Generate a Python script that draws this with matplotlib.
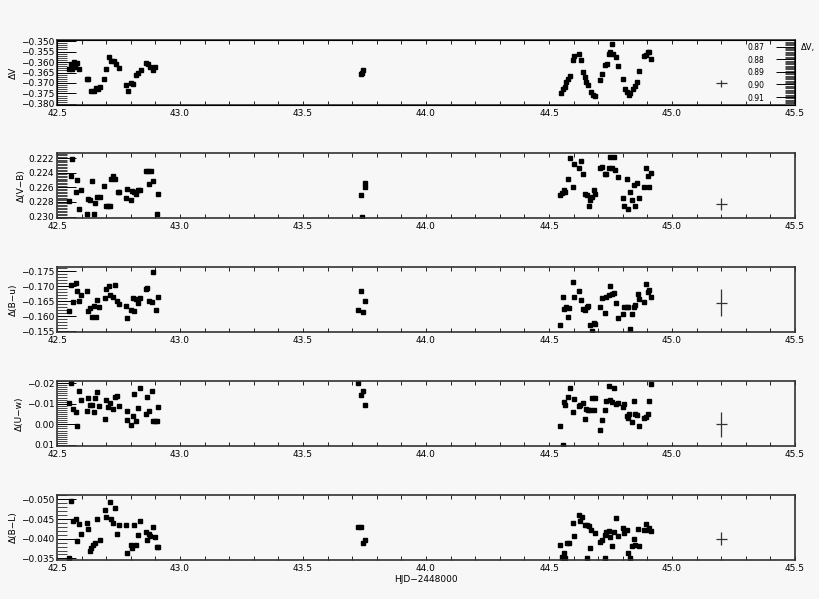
import matplotlib
matplotlib.use("Agg")
import matplotlib.pyplot as plt
from matplotlib.ticker import MultipleLocator, FormatStrFormatter

# ---- data ----
# panel 1: dV
x1 = [42.550, 42.555, 42.560, 42.570, 42.575, 42.580, 42.590, 42.620, 42.625, 42.640, 42.650,
      42.660, 42.665, 42.675, 42.690, 42.700, 42.710, 42.720, 42.730, 42.740, 42.750, 42.780,
      42.790, 42.800, 42.810, 42.820, 42.830, 42.840, 42.860, 42.870, 42.880, 42.890, 42.900,
      43.735, 43.740, 43.745,
      44.550, 44.556, 44.564, 44.570, 44.577, 44.584, 44.596, 44.602, 44.621, 44.631, 44.637,
      44.645, 44.650, 44.659, 44.669, 44.678, 44.688, 44.709, 44.715, 44.726, 44.734, 44.743,
      44.748, 44.756, 44.762, 44.772, 44.780, 44.799, 44.808, 44.817, 44.824, 44.831, 44.840,
      44.851, 44.858, 44.864, 44.885, 44.894, 44.902, 44.908, 44.916]
dv = [-0.3635, -0.361, -0.3635, -0.360, -0.3625, -0.3605, -0.3635, -0.368, -0.368, -0.374, -0.374,
      -0.3725, -0.373, -0.372, -0.368, -0.3635, -0.3575, -0.3595, -0.3595, -0.361, -0.363, -0.371,
      -0.374, -0.370, -0.3705, -0.366, -0.365, -0.364, -0.3605, -0.361, -0.3625, -0.364, -0.3625,
      -0.3655, -0.365, -0.364,
      -0.375, -0.3727, -0.3718, -0.3695, -0.3679, -0.3666, -0.359, -0.357, -0.3563, -0.359, -0.3647,
      -0.3671, -0.3695, -0.3711, -0.3744, -0.3755, -0.376, -0.3685, -0.3658, -0.3615, -0.3611, -0.3561,
      -0.355, -0.3513, -0.3561, -0.3577, -0.3621, -0.3679, -0.3727, -0.3744, -0.3755, -0.375, -0.3727,
      -0.3715, -0.3695, -0.3642, -0.3569, -0.3566, -0.3553, -0.355, -0.3586]

# panel 2: d(V-B)
x2 = [42.549, 42.5625, 42.558, 42.576, 42.582, 42.590, 42.599, 42.620, 42.626, 42.633, 42.641,
      42.651, 42.656, 42.664, 42.674, 42.692, 42.698, 42.708, 42.715, 42.719, 42.728, 42.735,
      42.746, 42.753, 42.785, 42.780, 42.799, 42.806, 42.814, 42.821, 42.829, 42.837, 42.860,
      42.871, 42.884, 42.875, 42.891, 42.905, 42.909,
      43.735, 43.738, 43.750, 43.753,
      44.546, 44.553, 44.560, 44.566, 44.577, 44.587, 44.596, 44.603, 44.621, 44.631, 44.637,
      44.645, 44.654, 44.661, 44.668, 44.675, 44.682, 44.688, 44.709, 44.715, 44.726, 44.732,
      44.743, 44.749, 44.756, 44.763, 44.770, 44.780, 44.799, 44.805, 44.816, 44.821, 44.831,
      44.837, 44.844, 44.851, 44.858, 44.867, 44.885, 44.894, 44.902, 44.908, 44.916]
vb = [0.2279, 0.2221, 0.2245, 0.2267, 0.2250, 0.2290, 0.2263, 0.2296, 0.2276, 0.2277, 0.2252,
      0.2296, 0.2282, 0.2273, 0.2273, 0.2258, 0.2285, 0.2285, 0.2285, 0.2249, 0.2244, 0.2249,
      0.2267, 0.2266, 0.2262, 0.2275, 0.2277, 0.2265, 0.2267, 0.2269, 0.2264, 0.2264, 0.2238,
      0.2238, 0.2238, 0.2256, 0.2252, 0.2297, 0.2269,
      0.2271, 0.2300, 0.2254, 0.2259,
      0.2271, 0.2268, 0.2264, 0.2266, 0.2249, 0.2220, 0.2260, 0.2228, 0.2233, 0.2224, 0.2242,
      0.2269, 0.2271, 0.2286, 0.2277, 0.2273, 0.2264, 0.2269, 0.2233, 0.2232, 0.2242, 0.2242,
      0.2234, 0.2218, 0.2234, 0.2219, 0.2236, 0.2246, 0.2274, 0.2286, 0.2249, 0.2289, 0.2266,
      0.2277, 0.2257, 0.2285, 0.2254, 0.2274, 0.2260, 0.2234, 0.2245, 0.2260, 0.2241]

# panel 3: d(B-u)
x3 = [42.549, 42.558, 42.565, 42.576, 42.582, 42.590, 42.599, 42.620, 42.626, 42.636, 42.643,
      42.651, 42.658, 42.664, 42.671, 42.694, 42.698, 42.712, 42.717, 42.726, 42.735, 42.745,
      42.753, 42.780, 42.785, 42.799, 42.807, 42.814, 42.821, 42.830, 42.837, 42.860, 42.867,
      42.875, 42.885, 42.891, 42.902, 42.909,
      43.723, 43.734, 43.743, 43.750,
      44.546, 44.556, 44.560, 44.570, 44.577, 44.580, 44.596, 44.603, 44.621, 44.631, 44.637,
      44.645, 44.654, 44.658, 44.668, 44.675, 44.682, 44.686, 44.709, 44.715, 44.726, 44.732,
      44.743, 44.749, 44.756, 44.763, 44.772, 44.780, 44.799, 44.805, 44.816, 44.821, 44.831,
      44.837, 44.844, 44.851, 44.862, 44.867, 44.885, 44.894, 44.902, 44.908, 44.916]
bu = [-0.1616, -0.1704, -0.1646, -0.1712, -0.1685, -0.1649, -0.1669, -0.1685, -0.1616, -0.1627, -0.1597,
      -0.1635, -0.1597, -0.1654, -0.1632, -0.1660, -0.1690, -0.1701, -0.1671, -0.1663, -0.1704, -0.1649,
      -0.1641, -0.1635, -0.1594, -0.1621, -0.1660, -0.1616, -0.1657, -0.1643, -0.1660, -0.1690, -0.1693,
      -0.1652, -0.1646, -0.1748, -0.1619, -0.1663,
      -0.1621, -0.1685, -0.1613, -0.1649,
      -0.1570, -0.1663, -0.1623, -0.1631, -0.1597, -0.1627, -0.1714, -0.1663, -0.1683, -0.1654, -0.1623,
      -0.1620, -0.1631, -0.1635, -0.1570, -0.1552, -0.1578, -0.1573, -0.1631, -0.1661, -0.1609, -0.1665,
      -0.1669, -0.1699, -0.1674, -0.1677, -0.1643, -0.1595, -0.1606, -0.1631, -0.1631, -0.1631, -0.1556,
      -0.1606, -0.1631, -0.1638, -0.1674, -0.1657, -0.1646, -0.1708, -0.1680, -0.1688, -0.1665]

# panel 4: d(U-w)
x4 = [42.549, 42.558, 42.565, 42.576, 42.582, 42.590, 42.599, 42.620, 42.626, 42.636, 42.643,
      42.651, 42.656, 42.664, 42.671, 42.694, 42.698, 42.708, 42.717, 42.726, 42.735, 42.745,
      42.753, 42.783, 42.785, 42.799, 42.807, 42.814, 42.821, 42.830, 42.837, 42.860, 42.867,
      42.875, 42.885, 42.891, 42.898, 42.905, 42.909,
      43.723, 43.734, 43.743, 43.750,
      44.546, 44.556, 44.560, 44.566, 44.577, 44.587, 44.596, 44.603, 44.621, 44.627, 44.637,
      44.645, 44.650, 44.659, 44.668, 44.675, 44.682, 44.688, 44.709, 44.715, 44.726, 44.732,
      44.743, 44.749, 44.763, 44.756, 44.772, 44.780, 44.799, 44.805, 44.816, 44.821, 44.826,
      44.837, 44.844, 44.851, 44.864, 44.858, 44.885, 44.894, 44.902, 44.908, 44.916]
uw = [-0.0102, -0.0198, -0.0074, -0.0061, 0.0006, -0.0163, -0.0118, -0.0063, -0.0126, -0.0094, -0.0094,
      -0.0061, -0.0126, -0.0155, -0.0087, -0.0026, -0.0119, -0.0082, -0.0103, -0.0074, -0.0131, -0.0135,
      -0.0087, -0.0066, -0.0023, 0.0003, -0.0042, -0.0147, -0.0018, -0.0077, -0.0176, -0.0050, -0.0131,
      -0.0063, -0.0163, -0.0015, -0.0015, -0.0015, -0.0082,
      -0.0198, -0.0142, -0.0163, -0.0094,
      0.0010, 0.0100, -0.0106, -0.0094, -0.0131, -0.0174, -0.0058, -0.0123, -0.0087, -0.0094, -0.0103,
      -0.0026, -0.0074, -0.0071, -0.0071, -0.0126, -0.0071, -0.0126, 0.0026, -0.0023, -0.0071, -0.0113,
      -0.0184, -0.0119, -0.0174, -0.0110, -0.0098, -0.0103, -0.0082, -0.0098, -0.0042, -0.0029, -0.0050,
      -0.0013, -0.0115, -0.0050, 0.0006, -0.0045, -0.0029, -0.0034, -0.0048, -0.0115, -0.0195]

# panel 5: d(B-L)
x5 = [42.549, 42.558, 42.565, 42.576, 42.582, 42.590, 42.599, 42.620, 42.626, 42.633, 42.640,
      42.647, 42.656, 42.664, 42.674, 42.694, 42.701, 42.715, 42.721, 42.735, 42.728, 42.745,
      42.753, 42.783, 42.780, 42.799, 42.806, 42.814, 42.821, 42.829, 42.837, 42.860, 42.867,
      42.875, 42.880, 42.891, 42.898, 42.905, 42.912,
      43.723, 43.734, 43.743, 43.750,
      44.546, 44.553, 44.560, 44.566, 44.573, 44.580, 44.596, 44.603, 44.621, 44.627, 44.634,
      44.645, 44.654, 44.661, 44.668, 44.672, 44.686, 44.709, 44.715, 44.726, 44.732, 44.743,
      44.749, 44.756, 44.763, 44.772, 44.780, 44.799, 44.805, 44.816, 44.821, 44.831, 44.837,
      44.844, 44.851, 44.862, 44.867, 44.885, 44.894, 44.902, 44.908, 44.916, 44.654, 44.726,
      44.556]
bl = [-0.0352, -0.0496, -0.0444, -0.0451, -0.0395, -0.0438, -0.0413, -0.0441, -0.0425, -0.0368, -0.0377,
      -0.0385, -0.0389, -0.0450, -0.0396, -0.0472, -0.0455, -0.0492, -0.0450, -0.0479, -0.0441, -0.0413,
      -0.0434, -0.0364, -0.0434, -0.0383, -0.0377, -0.0434, -0.0385, -0.0410, -0.0446, -0.0417, -0.0398,
      -0.0413, -0.0408, -0.0430, -0.0404, -0.0379, -0.0379,
      -0.0431, -0.0431, -0.0389, -0.0396,
      -0.0385, -0.0354, -0.0364, -0.0350, -0.0388, -0.0389, -0.0441, -0.0406, -0.0461, -0.0446, -0.0456,
      -0.0435, -0.0435, -0.0433, -0.0377, -0.0423, -0.0415, -0.0391, -0.0396, -0.0410, -0.0416, -0.0419,
      -0.0404, -0.0381, -0.0416, -0.0452, -0.0408, -0.0427, -0.0415, -0.0421, -0.0363, -0.0352, -0.0381,
      -0.0399, -0.0383, -0.0425, -0.0381, -0.0423, -0.0438, -0.0423, -0.0427, -0.0419, -0.0352, -0.0350,
      -0.0348]

xs = [x1, x2, x3, x4, x5]
ys = [dv, vb, bu, uw, bl]
labels = ['ΔV', 'Δ(V−B)', 'Δ(B−u)', 'Δ(U−w)', 'Δ(B−L)']
ylims = [(-0.3805, -0.3495), (0.2302, 0.2213), (-0.1547, -0.1764), (0.0105, -0.0210), (-0.0346, -0.0511)]
yticks = [[-0.350, -0.355, -0.360, -0.365, -0.370, -0.375, -0.380],
          [0.222, 0.224, 0.226, 0.228, 0.230],
          [-0.175, -0.170, -0.165, -0.160, -0.155],
          [-0.02, -0.01, 0.00, 0.01],
          [-0.050, -0.045, -0.040, -0.035]]
yfmt = ['{:.3f}', '{:.3f}', '{:.3f}', '{:.2f}', '{:.3f}']
yminor = [0.001, 0.0002, 0.001, 0.001, 0.001]
# typical error bars
err_x = 45.2
err_y = [-0.3702, 0.2283, -0.1645, 0.000, -0.040]
err_dy = [0.0015, 0.0008, 0.0044, 0.006, 0.0017]
err_dx = 0.022
# right hand axis of top panel
dv2_ticks = [0.87, 0.88, 0.89, 0.90, 0.91]

plt.rcParams['font.family'] = 'DejaVu Sans'
fig = plt.figure(figsize=(8.2, 5.99), dpi=100, facecolor='#f7f7f7')
W, H = 820, 599
tops = [40, 153, 267, 381, 495]
for i in range(5):
    ax = fig.add_axes([57 / W, 1 - (tops[i] + 65) / H, 738 / W, 65 / H])
    ax.set_facecolor('#f7f7f7')
    ax.plot(xs[i], ys[i], 's', color='black', ms=2.8)
    ax.errorbar([err_x], [err_y[i]], xerr=err_dx, yerr=err_dy[i], fmt='none', ecolor='#333333', lw=0.9)
    ax.set_xlim(42.5, 45.5)
    ax.set_ylim(*ylims[i])
    ax.set_yticks(yticks[i])
    ax.set_yticklabels([yfmt[i].format(v).replace('-', '−') for v in yticks[i]])
    ax.yaxis.set_minor_locator(MultipleLocator(yminor[i]))
    ax.xaxis.set_major_locator(MultipleLocator(0.5))
    ax.xaxis.set_minor_locator(MultipleLocator(0.1))
    ax.xaxis.set_major_formatter(FormatStrFormatter('%.1f'))
    ax.tick_params(axis='y', which='major', direction='in', length=14, width=0.7, labelsize=6.5, pad=2)
    ax.tick_params(axis='y', which='minor', direction='in', length=7, width=0.5)
    ax.tick_params(axis='x', which='both', direction='in', top=True, length=3, width=0.6, labelsize=6.5, pad=3)
    for s in ax.spines.values():
        s.set_linewidth(1.2)
        s.set_color('#333333')
    ax.set_ylabel(labels[i], fontsize=6.5, labelpad=2)
    if i == 0:
        ax2 = ax.twinx()
        ax2.set_ylim(0.9163, 0.8647)
        ax2.set_yticks(dv2_ticks)
        ax2.set_yticklabels(['{:.2f}'.format(v) for v in dv2_ticks])
        ax2.yaxis.set_minor_locator(MultipleLocator(0.001))
        ax2.tick_params(axis='y', which='major', direction='in', length=14, width=0.7,
                        labelsize=5.5, pad=-34)
        ax2.tick_params(axis='y', which='minor', direction='in', length=7, width=0.5)
        ax2.set_ylabel('ΔV,', fontsize=6, rotation=0, labelpad=4)
        ax2.yaxis.set_label_coords(1.018, 0.95)
    if i == 4:
        ax.set_xlabel('HJD−2448000', fontsize=6.5, labelpad=1)

fig.savefig('out.png', dpi=100, facecolor=fig.get_facecolor())
